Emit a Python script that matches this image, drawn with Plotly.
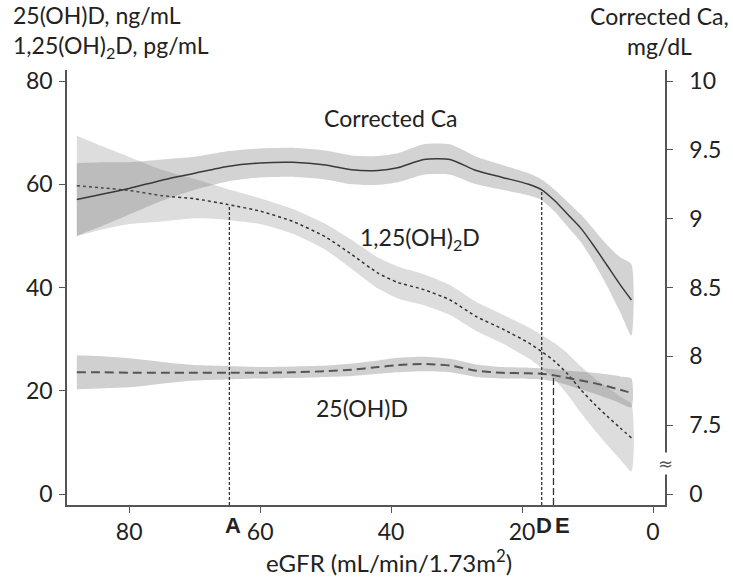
import plotly.graph_objects as go

# ---------------- data ----------------
egfr = [88, 84, 80, 75, 70, 65, 60, 55, 50, 46, 42, 39, 35, 31, 27, 23, 19, 17, 15, 13, 11, 9, 7, 5, 3.3]

ca = [9.14, 9.18, 9.22, 9.28, 9.33, 9.38, 9.405, 9.41, 9.39, 9.355, 9.35, 9.37, 9.43, 9.43,
      9.35, 9.30, 9.25, 9.21, 9.13, 9.03, 8.93, 8.80, 8.66, 8.52, 8.41]
ca_hw = [0.265, 0.23, 0.19, 0.15, 0.12, 0.11, 0.105, 0.105, 0.105, 0.105, 0.105, 0.105, 0.11, 0.11,
         0.10, 0.09, 0.08, 0.075, 0.08, 0.09, 0.10, 0.12, 0.15, 0.20, 0.26]

d125 = [59.7, 59.3, 58.8, 57.8, 57.2, 56.1, 54.8, 52.8, 49.8, 46.4, 42.8, 41.0, 39.6, 37.6,
        34.4, 32.0, 29.3, 27.6, 25.7, 23.2, 20.2, 17.5, 15.1, 12.8, 10.9]
d125_hw = [9.7, 8.0, 6.5, 5.0, 3.8, 3.0, 2.5, 2.4, 2.5, 2.8, 3.0, 3.1, 3.0, 2.9,
           2.8, 2.8, 3.0, 3.2, 3.5, 4.0, 4.5, 5.0, 5.6, 6.1, 6.5]

d25 = [23.6, 23.6, 23.5, 23.5, 23.5, 23.5, 23.5, 23.6, 23.8, 24.1, 24.6, 25.0, 25.2, 24.9,
       23.9, 23.5, 23.4, 23.3, 23.0, 22.5, 22.0, 21.5, 20.9, 20.2, 19.6]
d25_hw = [3.3, 3.1, 2.8, 2.1, 1.5, 1.3, 1.1, 1.1, 1.1, 1.2, 1.3, 1.4, 1.4, 1.3,
          1.2, 1.1, 1.1, 1.1, 1.2, 1.4, 1.7, 2.0, 2.3, 2.6, 2.8]

# reference lines: A (1,25(OH)2D), D (corrected Ca), E (25(OH)D)
ref_x = {"A": 64.7, "D": 17.0, "E": 15.2}
ref_top = {"A": 56.0, "D": 9.21, "E": 22.7}

x_ticks = [80, 60, 40, 20, 0]
y_ticks = [0, 20, 40, 60, 80]
ca_ticks = [7.5, 8, 8.5, 9, 9.5, 10]
ca_ticktext = ["7.5", "8", "8.5", "9", "9.5", "10"]

# ---------------- geometry ----------------
W, H = 733, 580
L, R, T, B = 67, 66, 70, 75
XR = [89.5, -1.83]
YR = [-2.10, 82.13]
Y2R = [6.921, 10.08]
# position on right axis that lines up with left-axis zero (broken axis "0")
f0 = (0 - YR[0]) / (YR[1] - YR[0])
ca_zero_pos = Y2R[0] + f0 * (Y2R[1] - Y2R[0])

pw, ph = W - L - R, H - T - B
def px(xpix):
    return (xpix - L) / pw
def py(ypix):
    return (H - B - ypix) / ph

FONT = "Lato, 'Open Sans', sans-serif"
FS = 23
TXT = "#222222"
AX = "#555555"

fig = go.Figure()

def band(x, mid, hw, yaxis, color):
    up = [m + h for m, h in zip(mid, hw)]
    lo = [m - h for m, h in zip(mid, hw)]
    fig.add_trace(go.Scatter(x=list(x) + list(x)[::-1], y=up + lo[::-1], fill="toself",
                             fillcolor=color, line=dict(width=0, shape="spline", smoothing=0.6),
                             mode="lines", hoverinfo="skip", showlegend=False, yaxis=yaxis))

band(egfr, d125, d125_hw, "y", "rgba(120,120,120,0.25)")
band(egfr, ca, ca_hw, "y2", "rgba(120,120,120,0.33)")
band(egfr, d25, d25_hw, "y", "rgba(120,120,120,0.35)")

fig.add_trace(go.Scatter(x=egfr, y=d125, mode="lines", yaxis="y", showlegend=False,
                         line=dict(color="#333333", width=1.5, dash="dot", shape="spline", smoothing=0.6)))
fig.add_trace(go.Scatter(x=egfr, y=d25, mode="lines", yaxis="y", showlegend=False,
                         line=dict(color="#555555", width=2, dash="9px,5px", shape="spline", smoothing=0.6)))
fig.add_trace(go.Scatter(x=egfr, y=ca, mode="lines", yaxis="y2", showlegend=False,
                         line=dict(color="#3a3a3a", width=1.5, shape="spline", smoothing=0.6)))

# vertical reference lines
fig.add_trace(go.Scatter(x=[ref_x["A"]] * 2, y=[YR[0], ref_top["A"]], mode="lines", yaxis="y",
                         showlegend=False, line=dict(color="#333333", width=1.3, dash="3px,2px")))
fig.add_trace(go.Scatter(x=[ref_x["D"]] * 2, y=[Y2R[0], ref_top["D"]], mode="lines", yaxis="y2",
                         showlegend=False, line=dict(color="#333333", width=1.3, dash="3px,2px")))
fig.add_trace(go.Scatter(x=[ref_x["E"]] * 2, y=[YR[0], ref_top["E"]], mode="lines", yaxis="y",
                         showlegend=False, line=dict(color="#333333", width=1.3, dash="7px,3px")))

ann = []
def text(x, y, s, size=FS, xanchor="center", yanchor="middle", xref="paper", yref="paper", bold=False, **kw):
    fam = "'Liberation Sans', Arial, sans-serif" if bold else FONT
    ann.append(dict(x=x, y=y, xref=xref, yref=yref, text=("<b>%s</b>" % s) if bold else s,
                    showarrow=False, xanchor=xanchor, yanchor=yanchor,
                    font=dict(family=fam, size=size, color=TXT), **kw))

# axis titles
text(px(11), py(31), "25(OH)D, ng/mL<br>1,25(OH)<sub>2</sub>D, pg/mL", xanchor="left", align="left")
text(px(661), py(31), "Corrected Ca,<br>mg/dL", align="center")
text(px(390), py(561), "eGFR (mL/min/1.73m<sup>2</sup>)", size=24)
# curve labels
text(px(392), py(118), "Corrected Ca")
text(px(421), py(238), "1,25(OH)<sub>2</sub>D")
text(px(363), py(408), "25(OH)D")
# A / D / E markers
text(64.2, py(525), "A", xref="x", size=22, bold=True)
text(16.6, py(525), "D", xref="x", size=22, bold=True)
text(13.9, py(525), "E", xref="x", size=22, bold=True)
# axis-break symbol
ann.append(dict(x=1.0, y=py(463), xref="paper", yref="paper", text="≈", showarrow=False,
                xanchor="center", yanchor="middle", bgcolor="white", borderpad=0,
                font=dict(family="DejaVu Sans", size=18, color=AX)))

fig.update_layout(
    width=W, height=H, autosize=False,
    margin=dict(l=L, r=R, t=T, b=B, pad=0),
    paper_bgcolor="white", plot_bgcolor="white",
    showlegend=False,
    annotations=ann,
    xaxis=dict(range=XR, showgrid=False, zeroline=False, showline=True, linecolor=AX, linewidth=1.5,
               ticks="outside", ticklen=6, tickwidth=1.2, tickcolor=AX, tickvals=x_ticks,
               tickfont=dict(family=FONT, size=FS, color=TXT)),
    yaxis=dict(range=YR, showgrid=False, zeroline=False, showline=True, linecolor=AX, linewidth=1.5,
               ticks="outside", ticklen=6, tickwidth=1.2, tickcolor=AX, tickvals=y_ticks,
               ticklabelstandoff=2, tickfont=dict(family=FONT, size=FS, color=TXT)),
    yaxis2=dict(range=Y2R, overlaying="y", side="right", showgrid=False, zeroline=False, showline=True,
                linecolor=AX, linewidth=1.5, ticks="outside", ticklen=6, tickwidth=1.2, tickcolor=AX,
                tickvals=[ca_zero_pos] + ca_ticks, ticktext=["0"] + ca_ticktext,
                ticklabelstandoff=12, tickfont=dict(family=FONT, size=FS, color=TXT)),
)

fig.write_html("out.html")
